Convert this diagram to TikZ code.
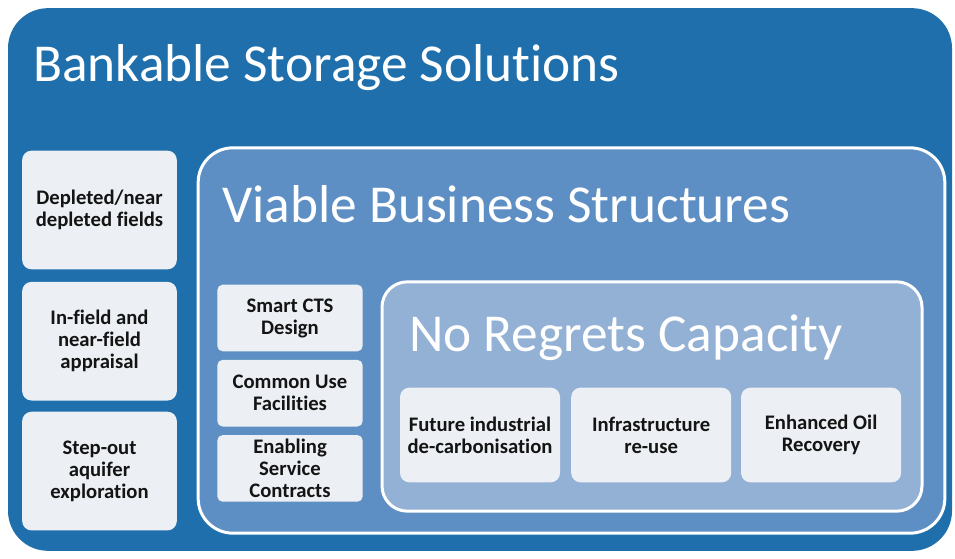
\documentclass[tikz,border=0pt]{standalone}
\usepackage{fontspec}
\setmainfont{Carlito}[Ligatures=NoCommon]
\usetikzlibrary{positioning}
\definecolor{bssblue}{HTML}{1E6FAB}
\definecolor{vbsblue}{HTML}{5E8FC4}
\definecolor{nrcblue}{HTML}{93B0D5}
\definecolor{boxgrey}{HTML}{ECEFF3}
\definecolor{boxtext}{HTML}{141414}
\tikzset{
  panel/.style={rectangle, rounded corners=7pt, fill=boxgrey, text=boxtext,
    font=\bfseries\fontsize{15.5}{16.5}\selectfont, align=center, inner sep=1pt},
  leftbox/.style={panel, minimum width=116pt, minimum height=89pt},
  midbox/.style={panel, minimum width=109pt, minimum height=50pt, rounded corners=4pt},
  capbox/.style={panel, minimum width=120pt, minimum height=71pt},
  heading/.style={text=white, anchor=base west, inner sep=0pt, font=\fontsize{40}{44}\selectfont},
  frame/.style={rectangle, draw=white, line width=2.25pt}
}
\begin{document}
\begin{tikzpicture}[x=0.75pt,y=-0.75pt]
\useasboundingbox (0,0) rectangle (955,559);
\node(BSS)      [rectangle, rounded corners=30pt, fill=bssblue, minimum width=708pt, minimum height=407pt] at (480,279.5) {};
\node(BSStitle) [heading] at (33,82) {Bankable Storage Solutions};

\node(D1)       [leftbox] at (99.5,210)  {Depleted/near\\depleted fields};
\node(D2)       [leftbox, below=9pt of D1] {In-field and\\near-field\\appraisal};
\node(D3)       [leftbox, below=8pt of D2] {Step-out\\aquifer\\exploration};

\node(VBS)      [frame, rounded corners=26pt, fill=vbsblue, minimum width=560pt, minimum height=289pt] at (571.5,340.5) {};
\node(VBStitle) [heading] at (222,223) {Viable Business Structures};

\node(S1)       [midbox] at (290,318)      {Smart CTS\\Design};
\node(S2)       [midbox, below=6pt of S1] {Common Use\\Facilities};
\node(S3)       [midbox, below=6pt of S2] {Enabling\\Service\\Contracts};

\node(NRC)      [frame, rounded corners=19pt, fill=nrcblue, minimum width=405pt, minimum height=172pt] at (652,396.5) {};
\node(NRCtitle) [heading] at (409,351) {No Regrets Capacity};

\node(C1)       [capbox] at (480,435)        {Future industrial\\de-carbonisation};
\node(C2)       [capbox, right=8pt of C1] {Infrastructure\\re-use};
\node(C3)       [capbox, right=7pt of C2] {Enhanced Oil\\Recovery};
\end{tikzpicture}
\end{document}
